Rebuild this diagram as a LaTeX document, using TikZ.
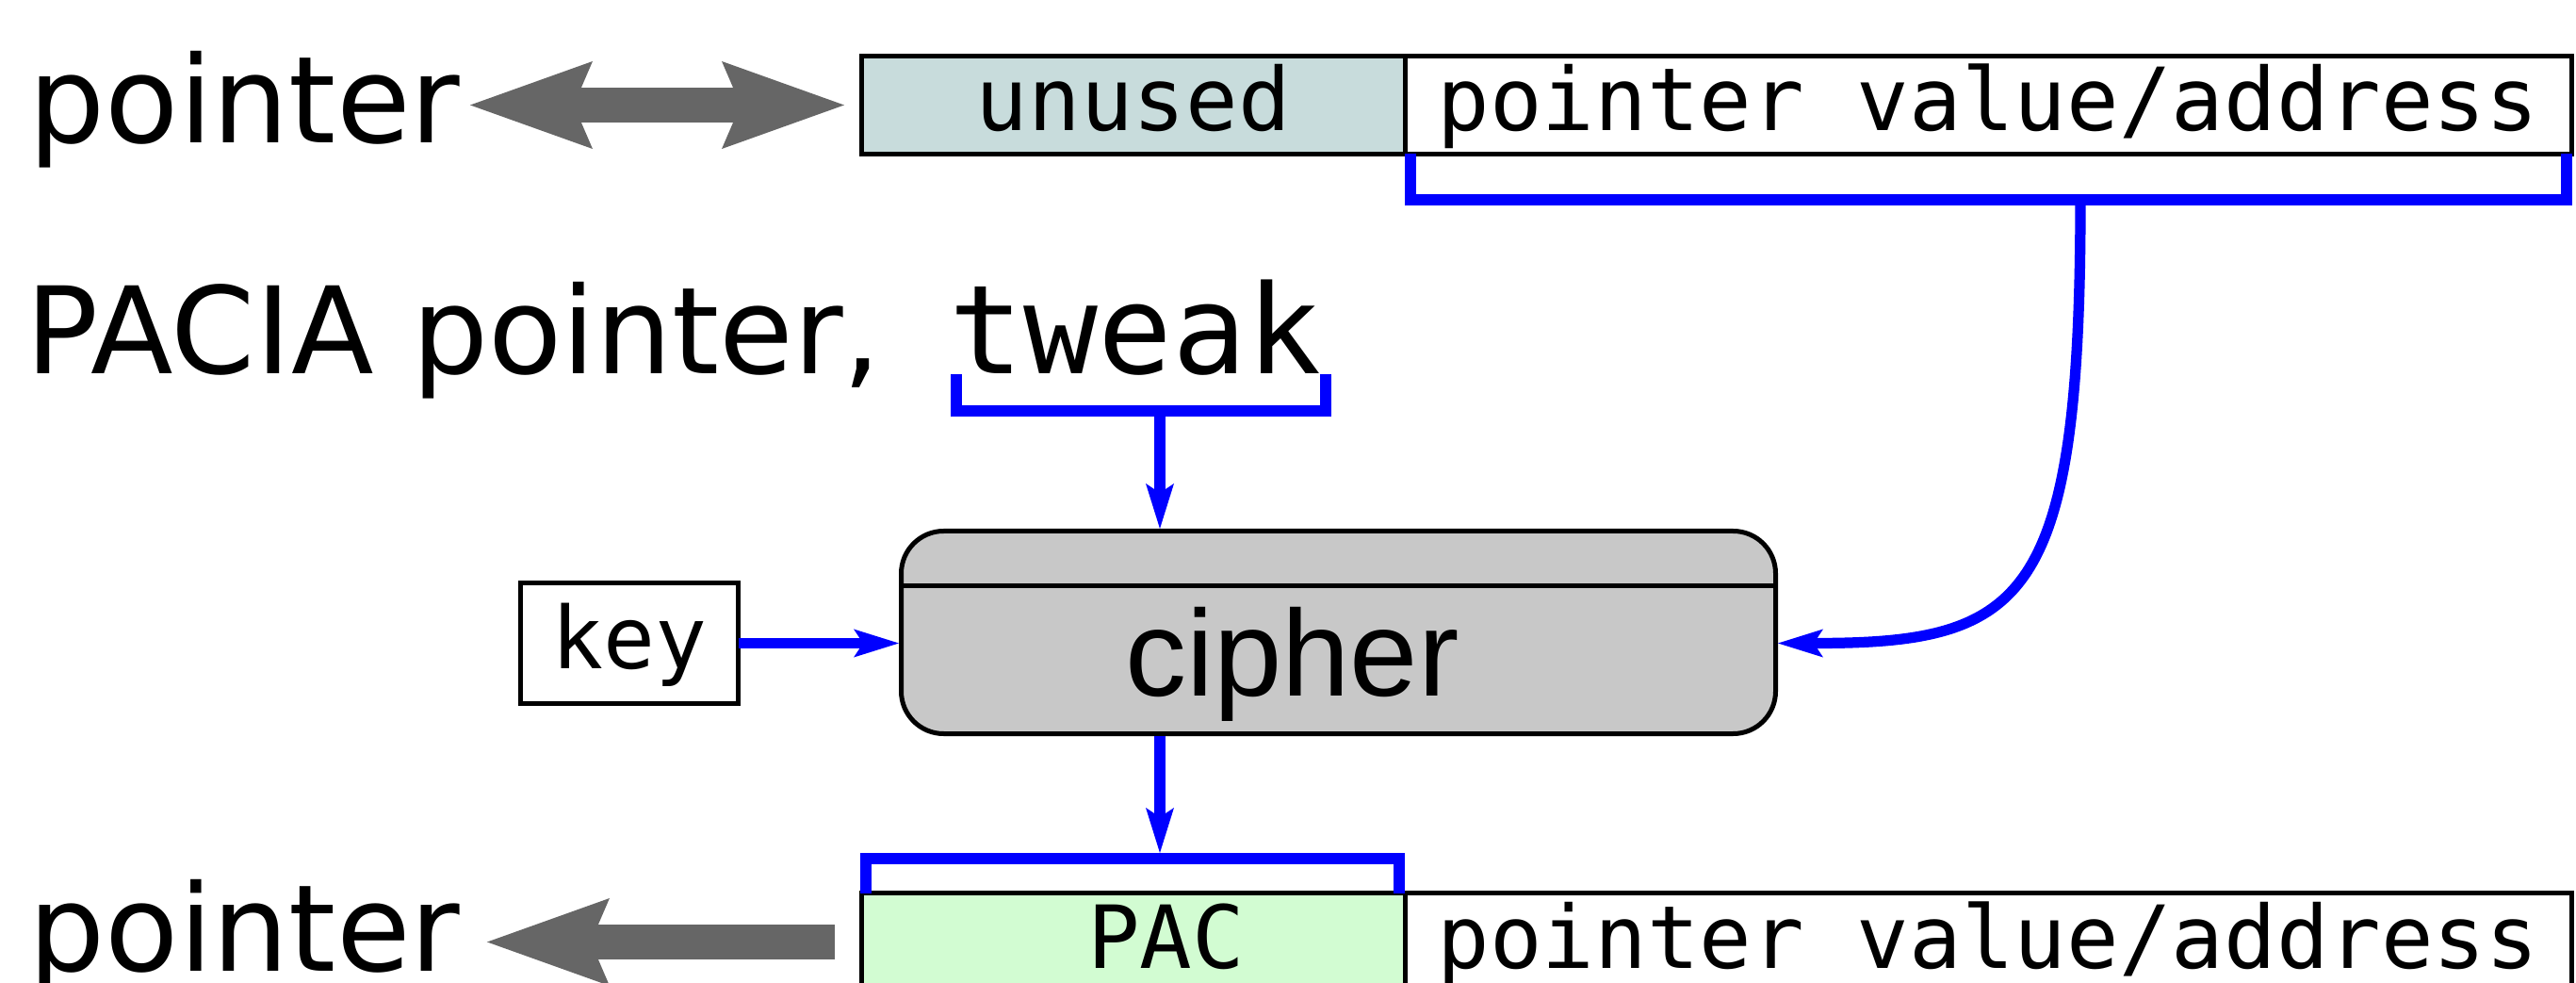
\documentclass[tikz,border=0pt]{standalone}
\usepackage{fontspec}
\setmainfont{DejaVu Sans}
\setmonofont{DejaVu Sans Mono}
\newfontfamily\cipherfont{Liberation Sans}
\usetikzlibrary{positioning,arrows.meta,calc}

\definecolor{unusedfill}{RGB}{200,220,220}
\definecolor{pacfill}{RGB}{210,252,210}
\definecolor{ciphergray}{RGB}{200,200,200}
\definecolor{arrowgray}{RGB}{102,102,102}

\tikzset{
  field/.style={
    rectangle,
    draw=black, line width=0.05cm,
    font=\ttfamily\fontsize{26.3}{30}\selectfont,
    text height=0.73cm, text depth=0.18cm,
    minimum height=1.04cm,
    inner sep=0pt, outer sep=0pt,
    anchor=north west},
  cipherbox/.style={
    rectangle, rounded corners=0.45cm,
    draw=black, line width=0.05cm, fill=ciphergray,
    minimum width=9.28cm, minimum height=2.15cm,
    inner sep=0pt,
    text height=1.34cm, text depth=0pt,
    font=\cipherfont\fontsize{37}{40}\selectfont},
  bigtext/.style={
    font=\fontsize{36.4}{40}\selectfont,
    inner sep=0pt, anchor=base west},
  bracket/.style={draw=blue, line width=3.2pt},
  flow/.style={draw=blue, line width=3.2pt,
    -{Stealth[length=0.48cm,width=0.30cm,inset=0.1cm,line width=0pt]}},
  bigarrow/.style={draw=arrowgray, line width=0.37cm,
    >={Stealth[length=1.3cm,width=0.93cm,inset=0.2cm,line width=0pt]}},
}

\begin{document}
\begin{tikzpicture}
\useasboundingbox (0,0) rectangle (27.34,-10.43);

\node[bigtext] (ptrtop) at (0.30,-1.52) {pointer};
\node[bigtext] (pacia) at (0.27,-3.97) {PACIA pointer,};
\node[bigtext, font=\ttfamily\fontsize{37.3}{40}\selectfont] (tweak) at (10.07,-3.97) {tweak};
\node[bigtext] (ptrbot) at (0.30,-10.30) {pointer};

\node[field, fill=unusedfill, minimum width=5.765cm] (unused) at (9.145,-0.595) {unused};
\node[field, right=0pt of unused, minimum width=12.38cm] (addr) {pointer value/address};

\node[field, anchor=center, minimum width=2.31cm, minimum height=1.28cm,
  font=\ttfamily\fontsize{26}{30}\selectfont] (key) at (6.68,-6.825) {key};

\node[cipherbox] (cipher) at (14.205,-6.71) {cipher\hspace*{0.98cm}};
\draw[line width=0.05cm] ($(cipher.north west)+(0,-0.61)$) -- ($(cipher.north east)+(0,-0.61)$);

\node[field, fill=pacfill, minimum width=5.765cm] (pac) at (9.145,-9.475) {\hspace*{0.7cm}PAC};
\node[field, right=0pt of pac, minimum width=12.38cm] (addrbot) {pointer value/address};

% brackets
\draw[bracket] ([xshift=0.06cm]addr.south west) -- ++(0,-0.485) -| ([xshift=-0.05cm]addr.south east);
\draw[bracket] (10.15,-3.97) |- (14.07,-4.36) -- (14.07,-3.97);
\draw[bracket] ([xshift=0.045cm]pac.north west) -- ++(0,0.365) -| ([xshift=-0.06cm]pac.north east);

\coordinate (addrstem) at (22.08,-2.12);
\coordinate (tweakstem) at (12.31,-4.36);
\coordinate (pactop) at (12.31,-9.05);

\draw[flow] (key.east) -- (key.east -| cipher.west);
\draw[flow] (tweakstem) -- (tweakstem |- cipher.north);
\draw[flow] (cipher.south -| tweakstem) -- (pactop);
\draw[flow] (addrstem) .. controls +(0,-4.28) and +(2.62,0) .. (cipher.east |- key.east);

\draw[bigarrow, <->, shorten <=0.10cm, shorten >=0.185cm] (ptrtop.east |- unused.west) -- (unused.west);
\draw[bigarrow, ->, shorten <=0.285cm, shorten >=0.28cm] (pac.west) -- (pac.west -| ptrbot.east);

\end{tikzpicture}
\end{document}
